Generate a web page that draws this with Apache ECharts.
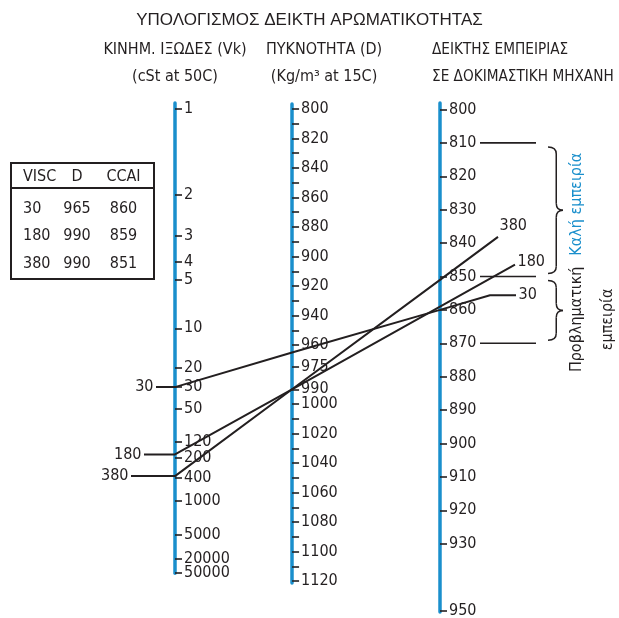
<!DOCTYPE html>
<html>
<head>
<meta charset="utf-8">
<script src="https://cdn.jsdelivr.net/npm/echarts@6/dist/echarts.min.js"></script>
<style>
  html, body { margin: 0; padding: 0; background: #ffffff; }
  #chart { width: 619px; height: 618px; }
</style>
</head>
<body>
<div id="chart"></div>
<script>
// ---- Samples (fuel oils) ----
const sampleVisc = [30, 180, 380];      // cSt at 50C
const sampleDensity = [965, 990, 990];  // kg/m3 at 15C
const sampleCCAI = [860, 859, 851];

// ---- Scale graduations ----
const viscTicks = [1, 2, 3, 4, 5, 10, 20, 30, 50, 120, 200, 400, 1000, 5000, 20000, 50000];
const densityTicks = [800, 810, 820, 830, 840, 850, 860, 870, 880, 890, 900, 910, 920, 930, 940, 950, 960,
  975, 990, 1000, 1010, 1020, 1030, 1040, 1050, 1060, 1070, 1080, 1090, 1100, 1110, 1120];
const densityLabels = [800, 820, 840, 860, 880, 900, 920, 940, 960, 975, 990,
  1000, 1020, 1040, 1060, 1080, 1100, 1120];
const ccaiTicks = [800, 810, 820, 830, 840, 850, 860, 870, 880, 890, 900, 910, 920, 930, 950];

// ---- Experience bands on the CCAI scale ----
const ccaiLimits = [810, 850, 870];
const bandRanges = [[810, 850], [850, 870]];
const bandNames = ['Καλή εμπειρία', 'Προβληματική\nεμπειρία'];

// ---- Texts ----
const chartTitle = 'ΥΠΟΛΟΓΙΣΜΟΣ ΔΕΙΚΤΗ ΑΡΩΜΑΤΙΚΟΤΗΤΑΣ';
const viscHeader = ['ΚΙΝΗΜ. ΙΞΩΔΕΣ (Vk)', '(cSt at 50C)'];
const densHeader = ['ΠΥΚΝΟΤΗΤΑ (D)', '(Kg/m³ at 15C)'];
const ccaiHeader = ['ΔΕΙΚΤΗΣ ΕΜΠΕΙΡΙΑΣ', 'ΣΕ ΔΟΚΙΜΑΣΤΙΚΗ ΜΗΧΑΝΗ'];
const tableHead = ['VISC', 'D', 'CCAI'];

// ---- Styling ----
const INK = '#231f20';
const BLUE = '#1a8fcc';
const NARROW = '"DejaVu Sans Condensed", "Liberation Sans Narrow", "Noto Sans", sans-serif';
const PLAIN = '"Liberation Sans", "Noto Sans", sans-serif';
const FS = 16;

// ---- Nomogram geometry ----
// CCAI = D - 141*log10(log10(V + 0.85)) - 81 : the viscosity scale is linear in
// log10(log10(V + 0.85)); the density scale sits between the two outer scales.
function lglg(v) { return Math.log10(Math.log10(v + 0.85)); }

const X_VISC = 175, X_CCAI = 440, RIGHT_EDGE = 619;
const VISC_TOP = 103, VISC_Y1 = 109, VISC_PX = 372.7;
const CCAI_TOP = 103, CCAI_BOTTOM = 612, CCAI_Y800 = 109.5, CCAI_PX = 3.34;
const DENS_TOP = 104, DENS_BOTTOM = 583;

const viscPerPoint = VISC_PX / 141;
const t = viscPerPoint / (viscPerPoint + CCAI_PX);
const X_DENS = X_VISC + t * (X_CCAI - X_VISC);
const DENS_PX = t * CCAI_PX;
const AV = VISC_Y1 - VISC_PX * lglg(1);
const AC = CCAI_Y800 - CCAI_PX * 800;
const BD = (1 - t) * AV + t * AC - 81 * DENS_PX;

const viscMin = (VISC_TOP - AV) / VISC_PX;
const viscMax = lglg(50000) + 0.0005;
const viscBottom = AV + VISC_PX * viscMax;
const densMin = (DENS_TOP - BD) / DENS_PX;
const densMax = (DENS_BOTTOM - BD) / DENS_PX;
const ccaiMin = 800 - (CCAI_Y800 - CCAI_TOP) / CCAI_PX;
const ccaiMax = 800 + (CCAI_BOTTOM - CCAI_Y800) / CCAI_PX;

// ---- Per-sample line layout ----
const leadLen = [19, 31, 44];        // leader length left of the viscosity scale
const reachX = [490, 515, 498];      // where each line stops right of the CCAI scale
const tailX = [516, null, null];     // optional horizontal tail
const endLabelShift = [[0, 0], [0, -3], [-1, -11]];

// Band marks, in px offsets from the CCAI scale
const LIMIT_X0 = 40, LIMIT_X1 = 96, BRACE_X = 108, BRACE_W = 15;

const tickLabelStyle = { color: INK, fontFamily: NARROW, fontSize: FS };

function scaleAxis(gridIndex, min, max, ticks, labels, fmt) {
  return {
    gridIndex: gridIndex, type: 'value', inverse: true, min: min, max: max,
    position: 'left',
    axisLine: { show: true, onZero: false, lineStyle: { color: BLUE, width: 3.5 } },
    axisTick: { show: true, inside: true, length: 7, customValues: ticks,
      lineStyle: { color: INK, width: 1.6 } },
    axisLabel: Object.assign({ show: true, inside: true, margin: 9, customValues: labels,
      hideOverlap: false, showMinLabel: true, showMaxLabel: true, formatter: fmt }, tickLabelStyle),
    splitLine: { show: false }
  };
}

const viscTickPos = viscTicks.map(lglg);
function viscLabel(val) {
  let best = 0, d = Infinity;
  viscTickPos.forEach((p, i) => { const e = Math.abs(p - val); if (e < d) { d = e; best = i; } });
  return String(viscTicks[best]);
}

// The two closely packed labels at the foot of the viscosity scale are split
// over two label layers so neither is dropped by the overlap check.
const viscMainLabels = viscTickPos.slice(0, -1);
const viscFootLabels = viscTickPos.slice(-1);
const viscFootAxis = {
  gridIndex: 0, type: 'value', inverse: true, min: viscMin, max: viscMax, position: 'left',
  axisLine: { show: false }, axisTick: { show: false }, splitLine: { show: false },
  axisLabel: Object.assign({ show: true, inside: true, margin: 9, customValues: viscFootLabels,
    showMinLabel: true, showMaxLabel: true, formatter: viscLabel }, tickLabelStyle)
};

const chart = echarts.init(document.getElementById('chart'));

function textEl(text, x, y, font, align, color, z) {
  return { type: 'text', x: x, y: y, z: z || 6,
    style: { text: text, fill: color || INK, font: font, align: align, textAlign: align,
      verticalAlign: 'middle', textVerticalAlign: 'middle' } };
}

// Table and headings
const graphics = [];
graphics.push(textEl(chartTitle, 309.5, 20, '17px ' + PLAIN, 'center'));
function header(lines, x, align, size) {
  lines.forEach((s, i) => graphics.push(textEl(s, x, 50 + i * 27, size + 'px ' + NARROW, align)));
}
header(viscHeader, X_VISC, 'center', FS);
header(densHeader, X_DENS + 32, 'center', FS);
header(ccaiHeader, X_CCAI - 8, 'left', 15.2);

const TBL = { x: 11, y: 163, w: 143, h: 116, head: 25 };
const colX = [23, 77, 123.5], colAlign = ['left', 'center', 'center'];
graphics.push({ type: 'rect', shape: { x: TBL.x, y: TBL.y, width: TBL.w, height: TBL.h },
  style: { fill: '#ffffff', stroke: INK, lineWidth: 2 }, z: 5 });
graphics.push({ type: 'line', shape: { x1: TBL.x, y1: TBL.y + TBL.head, x2: TBL.x + TBL.w, y2: TBL.y + TBL.head },
  style: { stroke: INK, lineWidth: 1.8 }, z: 6 });
function cell(text, col, y) {
  graphics.push(textEl(String(text), colX[col], y, FS + 'px ' + NARROW, colAlign[col]));
}
tableHead.forEach((h, c) => cell(h, c, TBL.y + 14));
sampleVisc.forEach((v, r) => {
  const y = TBL.y + 45.5 + r * 27.5;
  cell(v, 0, y); cell(sampleDensity[r], 1, y); cell(sampleCCAI[r], 2, y);
});

const gridBase = { outerBoundsMode: 'none', containLabel: false };
const option = {
  animation: false,
  backgroundColor: '#ffffff',
  graphic: graphics,
  grid: [
    Object.assign({ left: X_VISC, top: VISC_TOP, width: 1, height: viscBottom - VISC_TOP }, gridBase),
    Object.assign({ left: X_DENS, top: DENS_TOP, width: 1, height: DENS_BOTTOM - DENS_TOP }, gridBase),
    Object.assign({ left: X_CCAI, top: CCAI_TOP, width: RIGHT_EDGE - X_CCAI, height: CCAI_BOTTOM - CCAI_TOP }, gridBase),
    Object.assign({ left: 0, top: 0, width: 619, height: 618 }, gridBase)
  ],
  xAxis: [
    { gridIndex: 0, type: 'value', min: 0, max: 1, show: false },
    { gridIndex: 1, type: 'value', min: 0, max: 1, show: false },
    { gridIndex: 2, type: 'value', min: 0, max: RIGHT_EDGE - X_CCAI, show: false },
    { gridIndex: 3, type: 'value', min: 0, max: 619, show: false }
  ],
  yAxis: [
    scaleAxis(0, viscMin, viscMax, viscTickPos, viscMainLabels, viscLabel),
    scaleAxis(1, densMin, densMax, densityTicks, densityLabels, v => String(Math.round(v))),
    scaleAxis(2, ccaiMin, ccaiMax, ccaiTicks, ccaiTicks, v => String(Math.round(v))),
    { gridIndex: 3, type: 'value', min: 0, max: 618, inverse: true, show: false },
    viscFootAxis
  ],
  series: [
    {
      id: 'limits', type: 'custom', xAxisIndex: 2, yAxisIndex: 2, z: 3,
      data: ccaiLimits.map(v => [v]),
      renderItem: function (params, api) {
        const a = api.coord([LIMIT_X0, api.value(0)]);
        const b = api.coord([LIMIT_X1, api.value(0)]);
        return { type: 'line', shape: { x1: a[0], y1: a[1], x2: b[0], y2: b[1] },
          style: { stroke: INK, lineWidth: 1.6 } };
      }
    },
    {
      id: 'bands', type: 'custom', xAxisIndex: 2, yAxisIndex: 2, z: 3,
      data: bandRanges.map((r, i) => [r[0], r[1], i]),
      renderItem: function (params, api) {
        const i = api.value(2);
        const y0 = api.coord([0, api.value(0)])[1] + 4;
        const y1 = api.coord([0, api.value(1)])[1] - 3;
        const x0 = api.coord([BRACE_X, 0])[0];
        const xm = x0 + BRACE_W * 0.55, xt = x0 + BRACE_W;
        const ym = (y0 + y1) / 2, r = 7;
        const st = { stroke: INK, lineWidth: 1.5, fill: null };
        const parts = [
          { type: 'bezierCurve', shape: { x1: x0, y1: y0, cpx1: xm, cpy1: y0, x2: xm, y2: y0 + r }, style: st },
          { type: 'line', shape: { x1: xm, y1: y0 + r, x2: xm, y2: ym - r }, style: st },
          { type: 'bezierCurve', shape: { x1: xm, y1: ym - r, cpx1: xm, cpy1: ym, x2: xt, y2: ym }, style: st },
          { type: 'bezierCurve', shape: { x1: xt, y1: ym, cpx1: xm, cpy1: ym, x2: xm, y2: ym + r }, style: st },
          { type: 'line', shape: { x1: xm, y1: ym + r, x2: xm, y2: y1 - r }, style: st },
          { type: 'bezierCurve', shape: { x1: xm, y1: y1 - r, cpx1: xm, cpy1: y1, x2: x0, y2: y1 }, style: st }
        ];
        const good = i === 0;
        parts.push({
          type: 'text', x: x0 + (good ? 29 : 44), y: ym + (good ? -6 : 9), rotation: Math.PI / 2,
          style: { text: bandNames[i], fill: good ? BLUE : INK, font: FS + 'px ' + NARROW,
            align: 'center', textAlign: 'center', verticalAlign: 'middle', textVerticalAlign: 'middle',
            lineHeight: 31 }
        });
        return { type: 'group', children: parts };
      }
    }
  ]
};
chart.setOption(option);

// Sample lines: each joins its viscosity, density and CCAI marks on the scales.
const lineSeries = [];
const labelData = [];
const labelBase = { show: true, color: INK, fontFamily: NARROW, fontSize: FS, opacity: 1 };
sampleVisc.forEach((v, i) => {
  const pV = chart.convertToPixel({ gridIndex: 0 }, [0, lglg(v)]);
  const pD = chart.convertToPixel({ gridIndex: 1 }, [0, sampleDensity[i]]);
  const pC = chart.convertToPixel({ gridIndex: 2 }, [0, sampleCCAI[i]]);
  const slope = (pC[1] - pV[1]) / (pC[0] - pV[0]);
  const end = [reachX[i], pC[1] + slope * (reachX[i] - pC[0])];
  const start = [pV[0] - leadLen[i], pV[1]];
  const pts = [start, pV, pD, pC, end];
  let tip = end;
  if (tailX[i] != null) { tip = [tailX[i], end[1]]; pts.push(tip); }
  lineSeries.push({
    id: 'sample' + i, type: 'line', xAxisIndex: 3, yAxisIndex: 3, z: 10,
    data: pts, symbol: 'none', silent: true,
    lineStyle: { color: INK, width: 2 }
  });
  labelData.push({ value: start, label: Object.assign({ position: 'left', distance: 2,
    formatter: String(v) }, labelBase) });
  labelData.push({ value: tip, label: Object.assign({ position: 'right', distance: 2,
    offset: endLabelShift[i], formatter: String(v) }, labelBase) });
});
lineSeries.push({
  id: 'sampleLabels', type: 'scatter', xAxisIndex: 3, yAxisIndex: 3, z: 11,
  symbolSize: 1, silent: true, data: labelData,
  itemStyle: { opacity: 0 },
  label: labelBase
});
chart.setOption({ series: option.series.concat(lineSeries) });
</script>
</body>
</html>
